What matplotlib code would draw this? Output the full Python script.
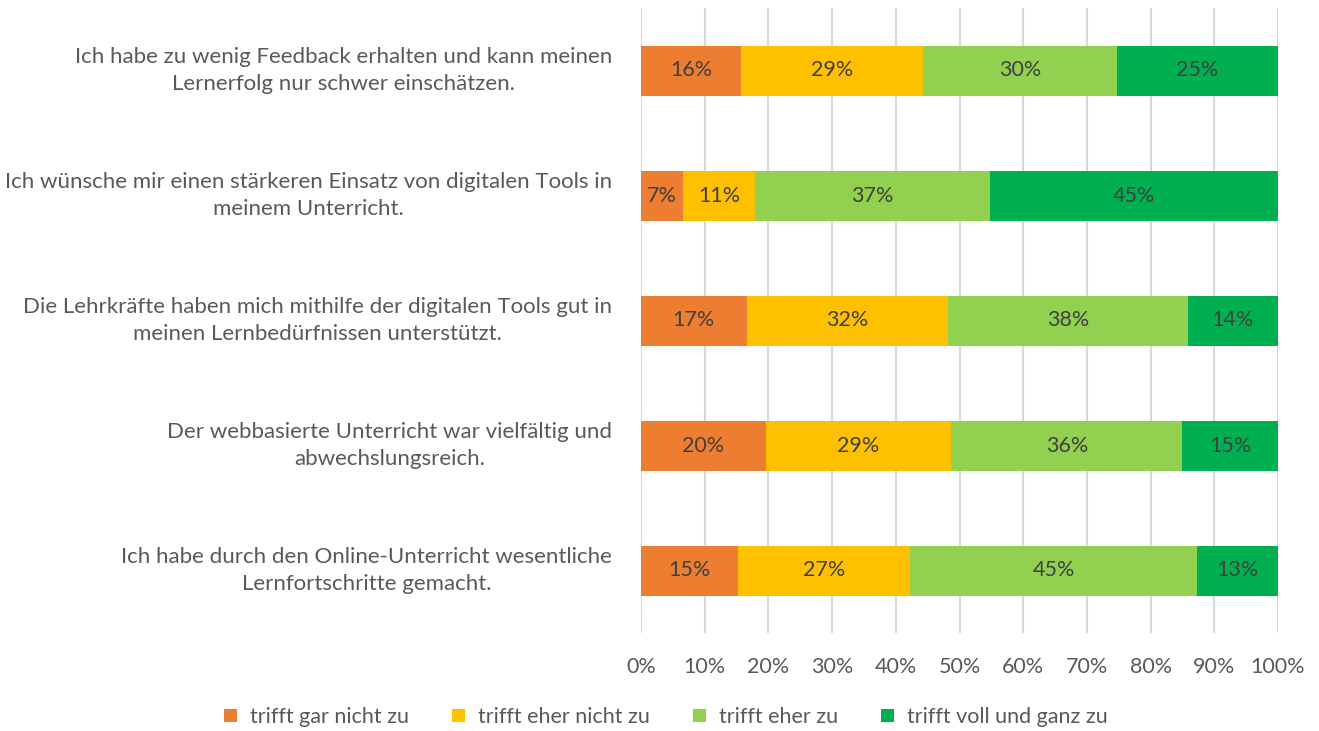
import matplotlib
matplotlib.use("Agg")
import matplotlib.pyplot as plt
import matplotlib.transforms as mtransforms
import numpy as np

plt.rcParams['font.family'] = ['Lato', 'DejaVu Sans']

categories = [
    "Ich habe zu wenig Feedback erhalten und kann meinen\nLernerfolg nur schwer einschätzen.",
    "Ich wünsche mir einen stärkeren Einsatz von digitalen Tools in\nmeinem Unterricht.",
    "Die Lehrkräfte haben mich mithilfe der digitalen Tools gut in\nmeinen Lernbedürfnissen unterstützt.",
    "Der webbasierte Unterricht war vielfältig und\nabwechslungsreich.",
    "Ich habe durch den Online-Unterricht wesentliche\nLernfortschritte gemacht.",
]
series_names = ["trifft gar nicht zu", "trifft eher nicht zu", "trifft eher zu", "trifft voll und ganz zu"]
gar_nicht = [15.7, 6.6, 16.6, 19.6, 15.3]
eher_nicht = [28.6, 11.3, 31.6, 29.1, 26.9]
eher_zu = [30.4, 36.9, 37.6, 36.3, 45.1]
voll = [25.3, 45.2, 14.2, 15.0, 12.7]
colors = ["#ED7D31", "#FFC000", "#92D050", "#00B050"]
xticks = np.arange(0, 101, 10)

fig = plt.figure(figsize=(13.19, 7.31), dpi=100)
ax = fig.add_axes([641/1319, (731-633)/731, 637/1319, 625/731])

y = np.arange(len(categories))
left = np.zeros(len(categories))
for name, vals, c in zip(series_names, [gar_nicht, eher_nicht, eher_zu, voll], colors):
    vals = np.array(vals)
    ax.barh(y, vals, left=left, height=0.4, color=c, label=name, zorder=3)
    for yi, l, v in zip(y, left, vals):
        ax.text(l + v/2, yi, f"{v:.0f}%", ha='center', va='center', fontsize=15.5, color='#404040', zorder=4)
    left += vals

ax.set_xlim(0, 100)
ax.set_ylim(len(categories) - 0.5, -0.5)
ax.set_xticks(xticks)
ax.set_xticklabels([f"{t}%" for t in xticks])
ax.set_yticks([])
ax.tick_params(axis='x', length=0, pad=17, labelsize=15.5, labelcolor='#595959')
ax.grid(axis='x', color='#d9d9d9', linewidth=1.5, zorder=0)
for s in ax.spines.values():
    s.set_visible(False)

# category labels placed to the left of the axis
lab_trans = mtransforms.blended_transform_factory(ax.transAxes, ax.transData) + \
    mtransforms.ScaledTranslation(-29/100, 0, fig.dpi_scale_trans)
for yi, cat in zip(y, categories):
    ax.text(0, yi, cat, transform=lab_trans, ha='right', va='center', multialignment='center',
            linespacing=1.45, fontsize=16, color='#595959')

leg = fig.legend(loc='center', bbox_to_anchor=(666/1319, 1 - 717/731), ncol=4, frameon=False,
                 fontsize=15.5, handlelength=0.6, handleheight=0.6, columnspacing=2.0, handletextpad=0.6)
for t in leg.get_texts():
    t.set_color('#595959')

fig.savefig("out.png", dpi=100)
